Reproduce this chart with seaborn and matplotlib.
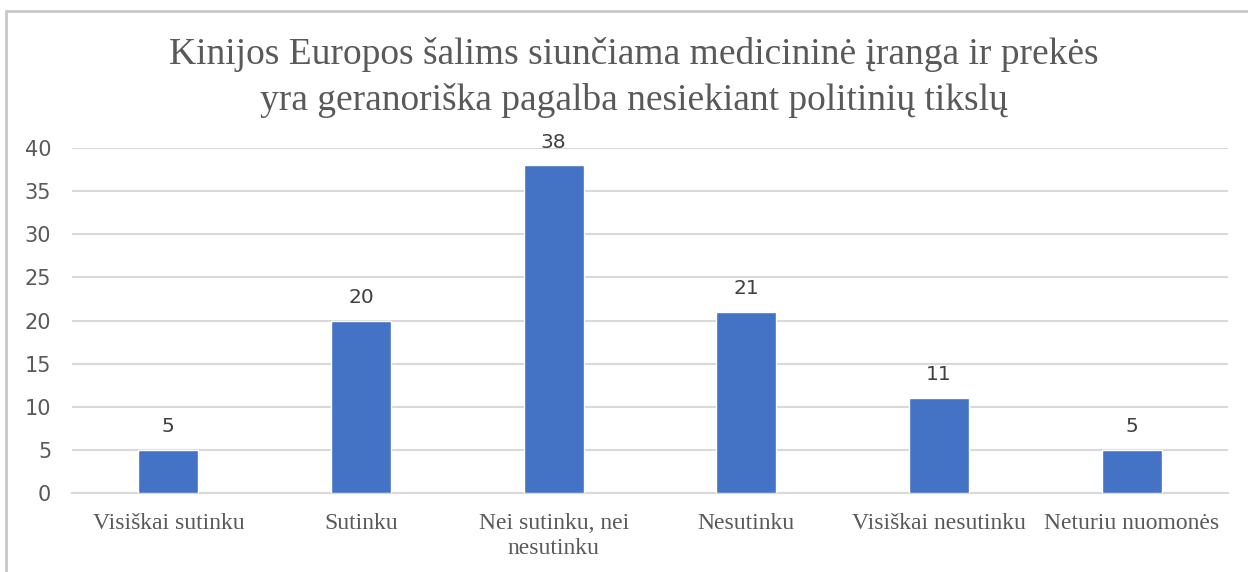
import matplotlib
matplotlib.use("Agg")
import matplotlib.pyplot as plt
import seaborn as sns
import pandas as pd
from matplotlib.lines import Line2D

# survey answers and counts
categories = ["Visiškai sutinku", "Sutinku", "Nei sutinku, nei\nnesutinku",
              "Nesutinku", "Visiškai nesutinku", "Neturiu nuomonės"]
counts = [5, 20, 38, 21, 11, 5]
title = ("Kinijos Europos šalims siunčiama medicininė įranga ir prekės\n"
         "yra geranoriška pagalba nesiekiant politinių tikslų")

df = pd.DataFrame({"answer": categories, "count": counts})

sns.set_style("white")
fig = plt.figure(figsize=(12.48, 5.72), dpi=100)
ax = fig.add_axes([0.0577, 0.138, 0.9263, 0.603])

sns.barplot(data=df, x="answer", y="count", color="#4472C4", saturation=1,
            width=0.31, ax=ax, zorder=3)

ax.set_ylim(0, 40)
ax.set_yticks(range(0, 41, 5))
ax.grid(axis="y", color="#D9D9D9", linewidth=1.5, zorder=0)
for s in ["top", "right", "left"]:
    ax.spines[s].set_visible(False)
ax.spines["bottom"].set_color("#D9D9D9")
ax.spines["bottom"].set_linewidth(1.5)
ax.tick_params(axis="both", length=0)
ax.tick_params(axis="y", labelsize=15, labelcolor="#595959", pad=15)
ax.tick_params(axis="x", pad=14)
for lbl in ax.get_xticklabels():
    lbl.set_fontfamily("Liberation Serif")
    lbl.set_fontsize(17)
    lbl.set_color("#595959")
    lbl.set_linespacing(1.3)
ax.set_xlabel("")
ax.set_ylabel("")

for c in ax.containers:
    ax.bar_label(c, padding=10, fontsize=14.5, color="#404040")

fig.text(0.508, 0.864, title, ha="center", va="center", fontsize=27,
         family="Liberation Serif", color="#595959", linespacing=1.42)

# chart frame
fig.add_artist(Line2D([0.005, 1.0], [0.981, 0.981], color="#C8C8C8", lw=2,
                      transform=fig.transFigure))
fig.add_artist(Line2D([0.005, 0.005], [0.0, 0.981], color="#C8C8C8", lw=2,
                      transform=fig.transFigure))

fig.savefig("out.png", dpi=100)
